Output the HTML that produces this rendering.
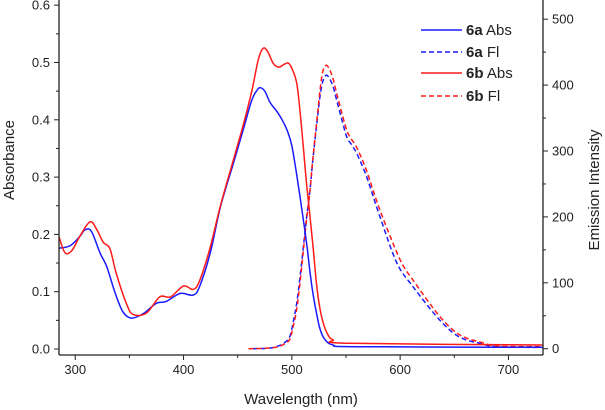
<!DOCTYPE html>
<html><head><meta charset="utf-8"><style>
html,body{margin:0;padding:0;background:#fff;}
svg{display:block;font-family:"Liberation Sans",Arial,sans-serif;}
</style></head><body>
<svg id="chart" width="605" height="410" viewBox="0 0 605 410"></svg>
<script>
const absAWl=[285,295,304,309,315,323,329,337,344,352,363,375,384,397,409,415,425,434,446,455,463,468,471,475,480,486,491,496,500,504,507.5,511,514,517,520,523,526,530,538,560,732];
const absAVal=[0.176,0.180,0.196,0.208,0.205,0.167,0.144,0.097,0.065,0.054,0.062,0.080,0.083,0.097,0.094,0.11,0.17,0.248,0.324,0.382,0.434,0.452,0.456,0.45,0.43,0.415,0.400,0.38,0.355,0.31,0.266,0.22,0.179,0.13,0.091,0.06,0.035,0.018,0.007,0.004,0.003];
const absBWl=[285,290.5,297,304,313.6,320,326,332,338,347.5,353.6,366,378,388,400,409,415,425,434,446,455,463,469,473.6,478,483,488,493,496.7,500,504.5,507.5,510.6,513.5,516.8,520,523,526,529,533,538,553,732];
const absBVal=[0.196,0.168,0.172,0.196,0.222,0.208,0.186,0.175,0.131,0.078,0.060,0.063,0.091,0.091,0.110,0.104,0.12,0.18,0.25,0.33,0.39,0.45,0.505,0.525,0.518,0.498,0.492,0.497,0.499,0.49,0.464,0.415,0.353,0.29,0.231,0.17,0.109,0.07,0.045,0.026,0.016,0.010,0.007];
const flAWl=[464,480,489,494,498,501,504.5,507.5,510.7,513.5,516.8,519,521.4,524,526,528.5,531.5,534.5,538,541,544.5,550.6,555,560,569,581.4,597,612,633.6,649,660,674,690,732];
const flAVal=[0,1,5,10,18,38,69,108,155,198,241,280,317,355,383,405,415,411,398,380,358,322,310,296,261,200,130,94,49,24,14,8,3,2];
const flBWl=[460,480,489,494,498,501,504.5,507.5,510.7,513.5,516.8,519,521.4,524,526,528.5,531.5,534.5,538,541,544.5,550.6,555,560,569,581.4,600,612,633.6,649,660,674,690,732];
const flBVal=[0,1,4,8,14,32,60,100,150,195,240,282,320,360,392,420,430,425,410,390,368,332,318,305,270,210,135,104,55,28,17,10,4,3];
const xTicks=[300,400,500,600,700];
const yTicks=[0,0.1,0.2,0.3,0.4,0.5,0.6];
const y2Ticks=[0,100,200,300,400,500];

const L=59,R=543,B=355;
const x=w=>L+(w-285)*1.083;
const y=v=>349-v*573;
const y2=v=>348.7-v*0.659;
const svg=document.getElementById('chart');
const NS='http://www.w3.org/2000/svg';
function mk(t,a,p){const e=document.createElementNS(NS,t);for(const k in a)e.setAttribute(k,a[k]);(p||svg).appendChild(e);return e;}

const defs=mk('defs',{});
const cp=mk('clipPath',{id:'clip'},defs);
mk('rect',{x:L,y:0,width:R-L,height:B},cp);

function smooth(pts){
  let d='M'+pts[0][0].toFixed(1)+','+pts[0][1].toFixed(1);
  for(let i=0;i<pts.length-1;i++){
    const p0=pts[i-1]||pts[i],p1=pts[i],p2=pts[i+1],p3=pts[i+2]||p2;
    const c1=[p1[0]+(p2[0]-p0[0])/6,p1[1]+(p2[1]-p0[1])/6];
    const c2=[p2[0]-(p3[0]-p1[0])/6,p2[1]-(p3[1]-p1[1])/6];
    d+='C'+c1[0].toFixed(1)+','+c1[1].toFixed(1)+' '+c2[0].toFixed(1)+','+c2[1].toFixed(1)+' '+p2[0].toFixed(1)+','+p2[1].toFixed(1);
  }
  return d;
}
function series(xs,ys,fy,color,dash,name){
  const pts=xs.map((w,i)=>[x(w),fy(ys[i])]);
  const p=mk('path',{d:smooth(pts),fill:'none',stroke:color,'stroke-width':1.5,'stroke-dasharray':dash||'none','clip-path':'url(#clip)','stroke-linejoin':'round'});
  
  
}
series(flAWl,flAVal,y2,'#1a1aff','5,3','series-6a-fl');
series(flBWl,flBVal,y2,'#ff1a1a','5,3','series-6b-fl');
series(absAWl,absAVal,y,'#1a1aff',null,'series-6a-abs');
series(absBWl,absBVal,y,'#ff1a1a',null,'series-6b-abs');

const ax={stroke:'#222','stroke-width':1.3};
const la=mk('line',Object.assign({x1:L,y1:0,x2:L,y2:B},ax));
const ra=mk('line',Object.assign({x1:R,y1:0,x2:R,y2:B},ax));
const ba=mk('line',Object.assign({x1:L,y1:B,x2:R,y2:B},ax));

for(let w=300;w<=730;w+=50){const major=w%100===0;mk('line',{x1:x(w),y1:B,x2:x(w),y2:B+(major?5:3),stroke:'#222','stroke-width':1});}
xTicks.forEach(w=>{const t=mk('text',{x:x(w),y:B+19,'font-size':13,'text-anchor':'middle',fill:'#222'});t.textContent=w;
});
for(let i=0;i<=12;i++){const v=i*0.05;const major=i%2===0;mk('line',{x1:L,y1:y(v),x2:L-(major?5:3),y2:y(v),stroke:'#222','stroke-width':1});}
yTicks.forEach(v=>{const t=mk('text',{x:L-9,y:y(v)+4.5,'font-size':13,'text-anchor':'end',fill:'#222'});t.textContent=v.toFixed(1);
});
for(let v=0;v<=500;v+=50){const major=v%100===0;mk('line',{x1:R,y1:y2(v),x2:R+(major?5:3),y2:y2(v),stroke:'#222','stroke-width':1});}
y2Ticks.forEach(v=>{const t=mk('text',{x:R+9,y:y2(v)+4.5,'font-size':13,'text-anchor':'start',fill:'#222'});t.textContent=v;
});

let t=mk('text',{x:301,y:404,'font-size':15,'text-anchor':'middle',fill:'#222'});t.textContent='Wavelength (nm)';

t=mk('text',{x:0,y:0,'font-size':15,'text-anchor':'middle',fill:'#222',transform:'translate(14,160) rotate(-90)'});t.textContent='Absorbance';

t=mk('text',{x:0,y:0,'font-size':15,'text-anchor':'middle',fill:'#222',transform:'translate(599,190) rotate(-90)'});t.textContent='Emission Intensity';


const leg=[['6a',' Abs','#1a1aff',null,30],['6a',' Fl','#1a1aff','5,3',52],['6b',' Abs','#ff1a1a',null,73],['6b',' Fl','#ff1a1a','5,3',96]];
leg.forEach(l=>{
  const g=mk('g',{});
  mk('line',{x1:421,y1:l[4],x2:462,y2:l[4],stroke:l[2],'stroke-width':1.5,'stroke-dasharray':l[3]||'none'},g);
  const tx=mk('text',{x:466,y:l[4]+5,'font-size':15,fill:'#222'},g);
  const b=mk('tspan',{'font-weight':'bold'},tx);b.textContent=l[0];
  const s=mk('tspan',{},tx);s.textContent=l[1];
});
</script>
</body></html>
